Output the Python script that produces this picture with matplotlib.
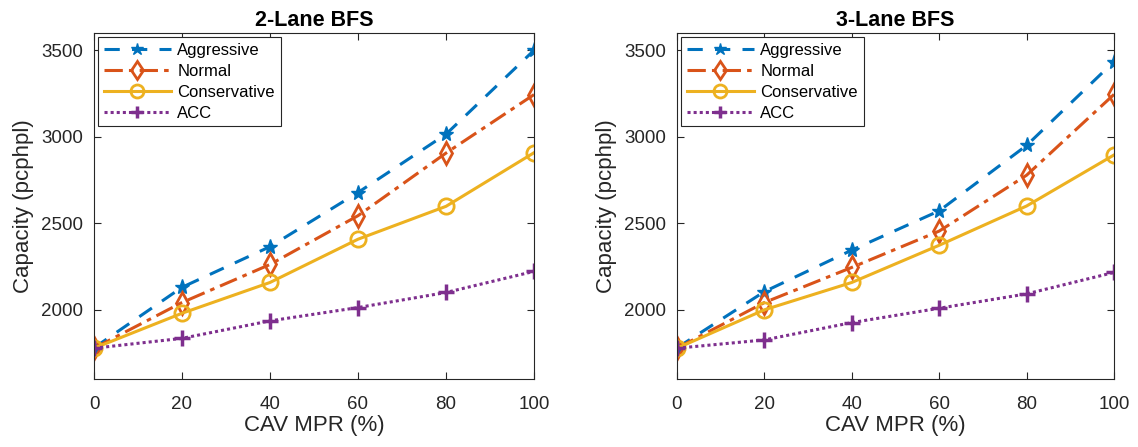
import matplotlib.pyplot as plt

plt.rcParams['font.family'] = ['Liberation Sans', 'DejaVu Sans']

# CAV market penetration rate (%)
mpr = [0, 20, 40, 60, 80, 100]

# 2-lane BFS capacity (pcphpl)
agg_2 = [1780, 2130, 2365, 2678, 3015, 3500]
nor_2 = [1778, 2042, 2262, 2544, 2906, 3244]
con_2 = [1778, 1980, 2158, 2408, 2598, 2908]
acc_2 = [1778, 1835, 1936, 2013, 2100, 2222]

# 3-lane BFS capacity (pcphpl)
agg_3 = [1780, 2105, 2345, 2572, 2950, 3435]
nor_3 = [1778, 2042, 2245, 2455, 2778, 3245]
con_3 = [1778, 2000, 2158, 2373, 2600, 2895]
acc_3 = [1778, 1826, 1926, 2009, 2092, 2216]

labels = ["Aggressive", "Normal", "Conservative", "ACC"]
colors = ["#0072BD", "#D95319", "#EDB120", "#7E2F8E"]
styles = [(0, (5, 4)), (0, (6, 2, 1.5, 2)), "-", (0, (1, 1))]
markers = ["*", "d", "o", "+"]

W, H = 1138, 447
fig = plt.figure(figsize=(W / 100, H / 100), dpi=100)
ax1 = fig.add_axes([94 / W, 1 - 379 / H, 440 / W, 346 / H])
ax2 = fig.add_axes([677 / W, 1 - 379 / H, 437 / W, 346 / H])

panels = [(ax1, "2-Lane BFS", [agg_2, nor_2, con_2, acc_2]),
          (ax2, "3-Lane BFS", [agg_3, nor_3, con_3, acc_3])]

for ax, title, series in panels:
    for vals, lab, c, ls, m in zip(series, labels, colors, styles, markers):
        if m == "*":
            kw = dict(markersize=11, markerfacecolor=c, markeredgecolor=c, markeredgewidth=1)
        elif m == "+":
            kw = dict(markersize=11, markeredgecolor=c, markeredgewidth=2.5)
        else:
            kw = dict(markersize=11, markerfacecolor="none", markeredgecolor=c, markeredgewidth=2)
        ax.plot(mpr, vals, linestyle=ls, color=c, lw=2.2, marker=m, label=lab, **kw)
    ax.set_xlim(0, 100)
    ax.set_ylim(1600, 3600)
    ax.set_xticks(mpr)
    ax.set_yticks([2000, 2500, 3000, 3500])
    ax.tick_params(direction="in", top=True, right=True, labelsize=13.5,
                   length=5, width=0.8, colors="#262626")
    ax.tick_params(axis="x", pad=12)
    ax.tick_params(axis="y", pad=8)
    for s in ax.spines.values():
        s.set_color("#262626")
        s.set_linewidth(0.8)
    ax.set_title(title, fontsize=15.5, fontweight="bold", pad=5)
    ax.set_xlabel("CAV MPR (%)", fontsize=16, color="#262626", labelpad=2)
    ax.set_ylabel("Capacity (pcphpl)", fontsize=16, color="#262626", labelpad=5)
    leg = ax.legend(loc="upper left", fontsize=12, fancybox=False,
                    edgecolor="#262626", framealpha=1, borderaxespad=0.25,
                    handlelength=4.0, labelspacing=0.35, borderpad=0.35,
                    handletextpad=0.4, markerscale=0.85)
    leg.get_frame().set_linewidth(0.8)

fig.savefig("out.png", dpi=100)
